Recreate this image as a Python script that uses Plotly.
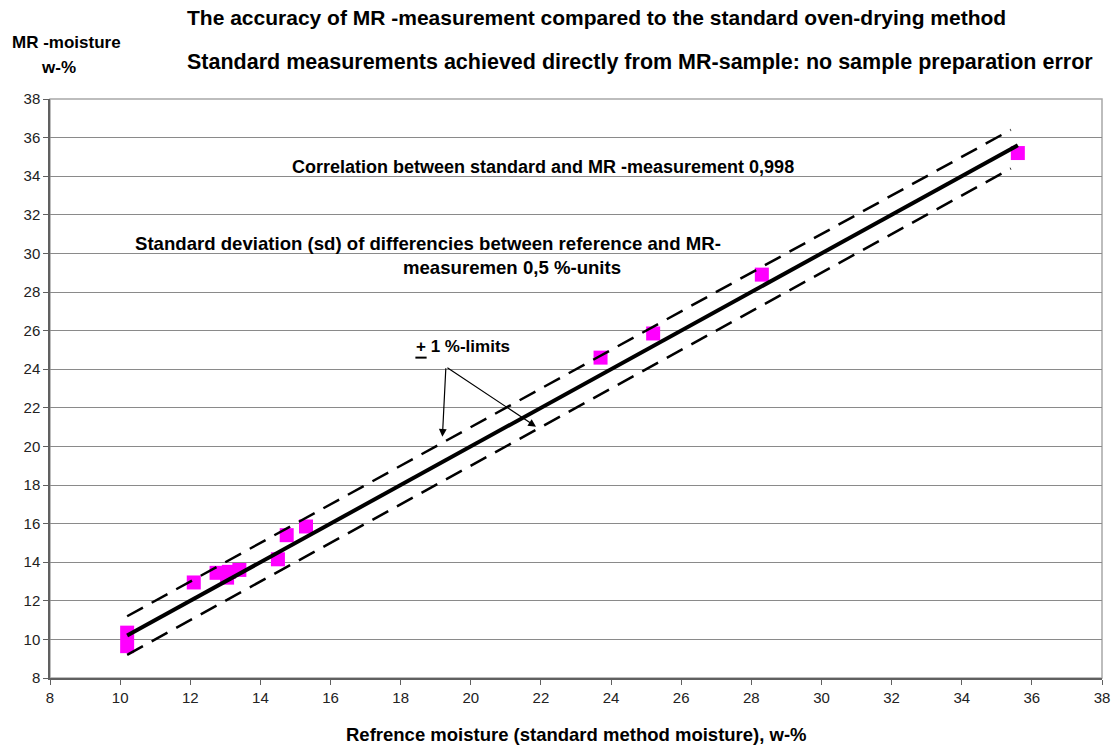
import plotly.graph_objects as go

# Reference (oven-drying) moisture vs MR-measured moisture, w-%
ref_moisture = [10.2, 10.2, 12.1, 12.75, 13.05, 13.1, 13.4, 14.5, 14.75, 15.3, 23.7, 25.2, 28.3, 35.6]
mr_moisture = [10.35, 9.65, 12.95, 13.45, 13.2, 13.5, 13.6, 14.15, 15.4, 15.85, 24.6, 25.85, 28.9, 35.2]

# 1:1 line and the +/- 1 %-unit limits around it
ideal_x = [10.2, 35.6]
ideal_y = [10.2, 35.6]
limit_x = [10.2, 35.4]
limit_offset = 1.0

tick_vals = list(range(8, 39, 2))

FONT = "Liberation Sans, Arial, sans-serif"

fig = go.Figure()

fig.add_trace(go.Scatter(
    x=ref_moisture, y=mr_moisture, mode="markers",
    marker=dict(symbol="square", size=14, color="#ff00ff", line=dict(width=0)),
    showlegend=False, hoverinfo="x+y",
))
fig.add_trace(go.Scatter(
    x=ideal_x, y=ideal_y, mode="lines",
    line=dict(color="black", width=4), showlegend=False,
))
fig.add_trace(go.Scatter(
    x=limit_x, y=[v + limit_offset for v in limit_x], mode="lines",
    line=dict(color="black", width=2.5, dash="18px,10px"), showlegend=False,
))
fig.add_trace(go.Scatter(
    x=limit_x, y=[v - limit_offset for v in limit_x], mode="lines",
    line=dict(color="black", width=2.5, dash="18px,10px"), showlegend=False,
))

title_font = dict(family=FONT, size=21, color="black")
label_font = dict(family=FONT, size=18, color="black")
sd_font = dict(family=FONT, size=18.6, color="black")
axis_title_font = dict(family=FONT, size=18.5, color="black")
side_font = dict(family=FONT, size=17, color="black")

annotations = [
    dict(text="<b>The accuracy of MR -measurement compared to the standard oven-drying method</b>",
         xref="paper", yref="paper", x=0.128, y=1.14, xanchor="left", yanchor="middle",
         showarrow=False, font=title_font),
    dict(text="<b>Standard measurements achieved directly from MR-sample: no sample preparation error</b>",
         xref="paper", yref="paper", x=0.128, y=1.064, xanchor="left", yanchor="middle",
         showarrow=False, font=dict(family=FONT, size=21.5, color="black")),
    dict(text="<b>MR -moisture</b>", xref="paper", yref="paper", x=-0.038, y=1.097,
         xanchor="left", yanchor="middle", showarrow=False, font=side_font),
    dict(text="<b>w-%</b>", xref="paper", yref="paper", x=0.008, y=1.054,
         xanchor="center", yanchor="middle", showarrow=False, font=side_font),
    dict(text="<b>Refrence moisture (standard method moisture), w-%</b>",
         xref="paper", yref="paper", x=0.5, y=-0.098, xanchor="center", yanchor="middle",
         showarrow=False, font=axis_title_font),
    dict(text="<b>Correlation between standard and MR -measurement 0,998</b>",
         x=14.83, y=34.49, xanchor="left", yanchor="middle", showarrow=False, font=label_font),
    dict(text="<b>Standard deviation (sd) of differencies between reference and MR-</b>",
         x=10.36, y=30.49, xanchor="left", yanchor="middle", showarrow=False, font=sd_font),
    dict(text="<b>measuremen 0,5 %-units</b>",
         x=18.02, y=29.25, xanchor="left", yanchor="middle", showarrow=False, font=sd_font),
    dict(text="<b>+ 1 %-limits</b>",
         x=18.39, y=25.2, xanchor="left", yanchor="middle", showarrow=False, font=side_font),
    # arrows pointing to the upper and lower limit lines
    dict(x=19.19, y=20.5, ax=19.29, ay=24.13, xref="x", yref="y", axref="x", ayref="y",
         text="", showarrow=True, arrowhead=2, arrowsize=1.3, arrowwidth=1.2, arrowcolor="black"),
    dict(x=21.86, y=21.02, ax=19.29, ay=24.13, xref="x", yref="y", axref="x", ayref="y",
         text="", showarrow=True, arrowhead=2, arrowsize=1.3, arrowwidth=1.2, arrowcolor="black"),
]

shapes = [
    # plot area frame
    dict(type="rect", xref="paper", yref="paper", x0=0, y0=0, x1=1, y1=1,
         line=dict(color="#a8a8a8", width=1.5), layer="below"),
    # underline of the "+" to form the plus-minus sign
    dict(type="line", xref="x", yref="y", x0=18.42, x1=18.74, y0=24.6, y1=24.6,
         line=dict(color="black", width=2)),
]

axis_common = dict(
    range=[8, 38], tickvals=tick_vals, zeroline=False, automargin=False,
    showline=True, linecolor="#606060", linewidth=1.5,
    ticks="outside", ticklen=5, tickcolor="#606060",
    tickfont=dict(family=FONT, size=15, color="#222222"),
)

fig.update_layout(
    width=1114, height=746,
    margin=dict(l=50, r=12, t=99, b=68),
    paper_bgcolor="white", plot_bgcolor="white",
    annotations=annotations, shapes=shapes,
    font=dict(family=FONT, size=14, color="#222222"),
    xaxis=dict(showgrid=False, **axis_common),
    yaxis=dict(showgrid=True, gridcolor="#8a8a8a", gridwidth=1.2, **axis_common),
)

fig.write_html("out.html")
